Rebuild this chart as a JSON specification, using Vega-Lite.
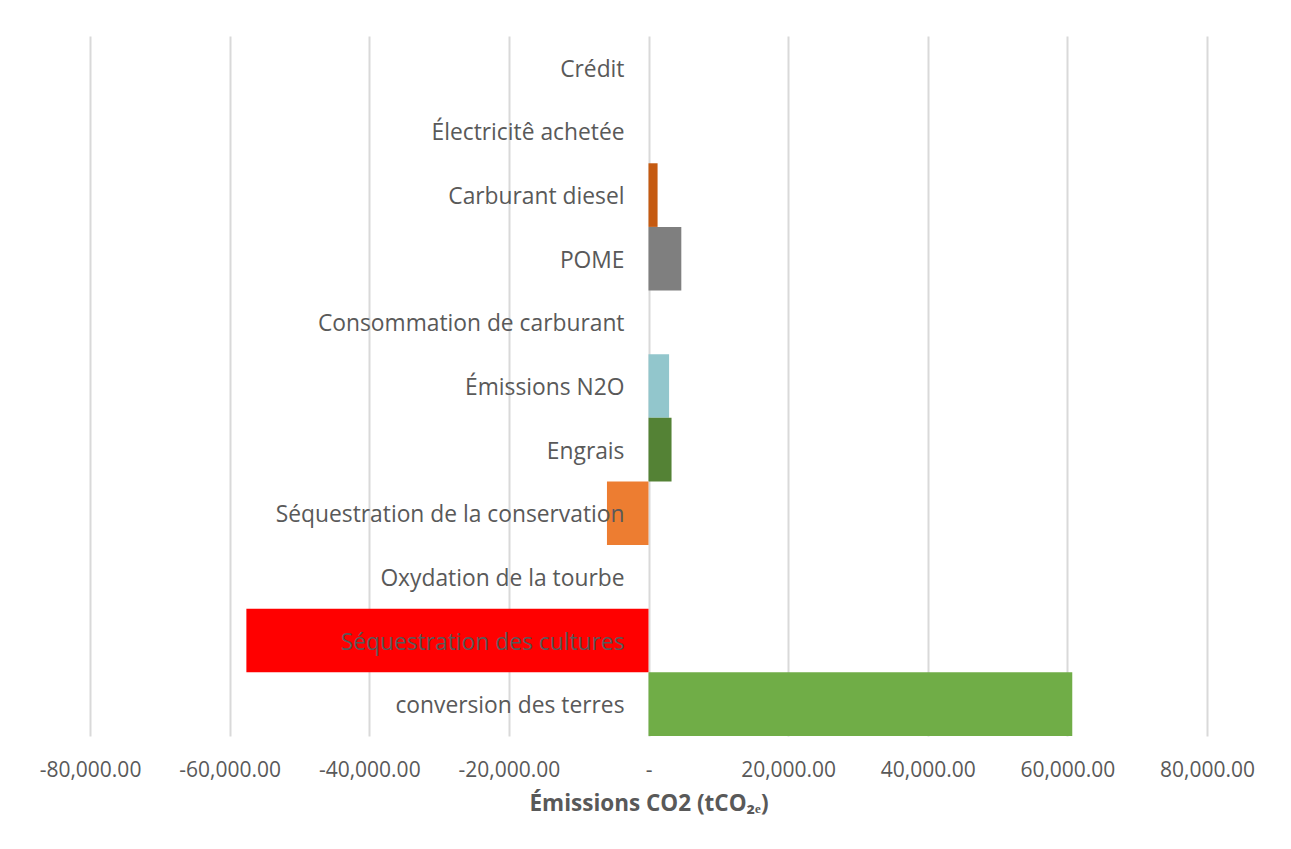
{
  "$schema": "https://vega.github.io/schema/vega-lite/v6.json",
  "width": 1117,
  "height": 700,
  "autosize": {"type": "none"},
  "padding": {"left": 90, "top": 36, "right": 84, "bottom": 113},
  "background": "white",
  "config": {"view": {"stroke": null}, "font": "Open Sans"},
  "data": {"values": [
    {"cat": "Crédit", "value": 0},
    {"cat": "Électricitê achetée", "value": 0},
    {"cat": "Carburant diesel", "value": 1300},
    {"cat": "POME ", "value": 4700},
    {"cat": "Consommation de carburant", "value": 0},
    {"cat": "Émissions N2O", "value": 2950},
    {"cat": "Engrais", "value": 3300},
    {"cat": "Séquestration de la conservation", "value": -5950},
    {"cat": "Oxydation de la tourbe", "value": 0},
    {"cat": "Séquestration des cultures", "value": -57600},
    {"cat": "conversion des terres", "value": 60700}
  ]},
  "encoding": {
    "y": {"field": "cat", "type": "nominal", "sort": null,
      "scale": {"paddingInner": 0, "paddingOuter": 0}, "axis": null}
  },
  "layer": [
    {
      "mark": {"type": "bar"},
      "encoding": {
        "x": {"field": "value", "type": "quantitative",
          "scale": {"domain": [-80000, 80000], "nice": false},
          "axis": {"values": [-80000, -60000, -40000, -20000, 0, 20000, 40000, 60000, 80000],
            "labelExpr": "datum.value == 0 ? '-' : replace(format(datum.value, ',.2f'), '−', '-')",
            "labelOverlap": false, "labelFlush": false,
            "domain": false, "ticks": false, "grid": true, "gridColor": "#D9D9D9", "gridWidth": 2,
            "labelFont": "Open Sans", "labelFontSize": 21, "labelColor": "#595959", "labelPadding": 23,
            "title": "Émissions CO2 (tCO₂ₑ)", "titleFont": "Open Sans", "titleFontSize": 22.5, "titleFontWeight": "bold",
            "titleColor": "#595959", "titlePadding": 12}},
        "color": {"field": "cat", "type": "nominal", "legend": null,
          "scale": {
            "domain": ["Crédit", "Électricitê achetée", "Carburant diesel", "POME ", "Consommation de carburant", "Émissions N2O", "Engrais", "Séquestration de la conservation", "Oxydation de la tourbe", "Séquestration des cultures", "conversion des terres"],
            "range": ["#4472C4", "#FFC000", "#C55A11", "#7F7F7F", "#264478", "#92C6CC", "#548235", "#ED7D31", "#A5A5A5", "#FF0000", "#70AD47"]}}
      }
    },
    {
      "mark": {"type": "text", "align": "right", "baseline": "middle", "dx": -24, "dy": 2, "font": "Open Sans", "fontSize": 22.8, "color": "#595959"},
      "encoding": {
        "x": {"datum": 0, "type": "quantitative"},
        "text": {"field": "cat"}
      }
    }
  ]
}
